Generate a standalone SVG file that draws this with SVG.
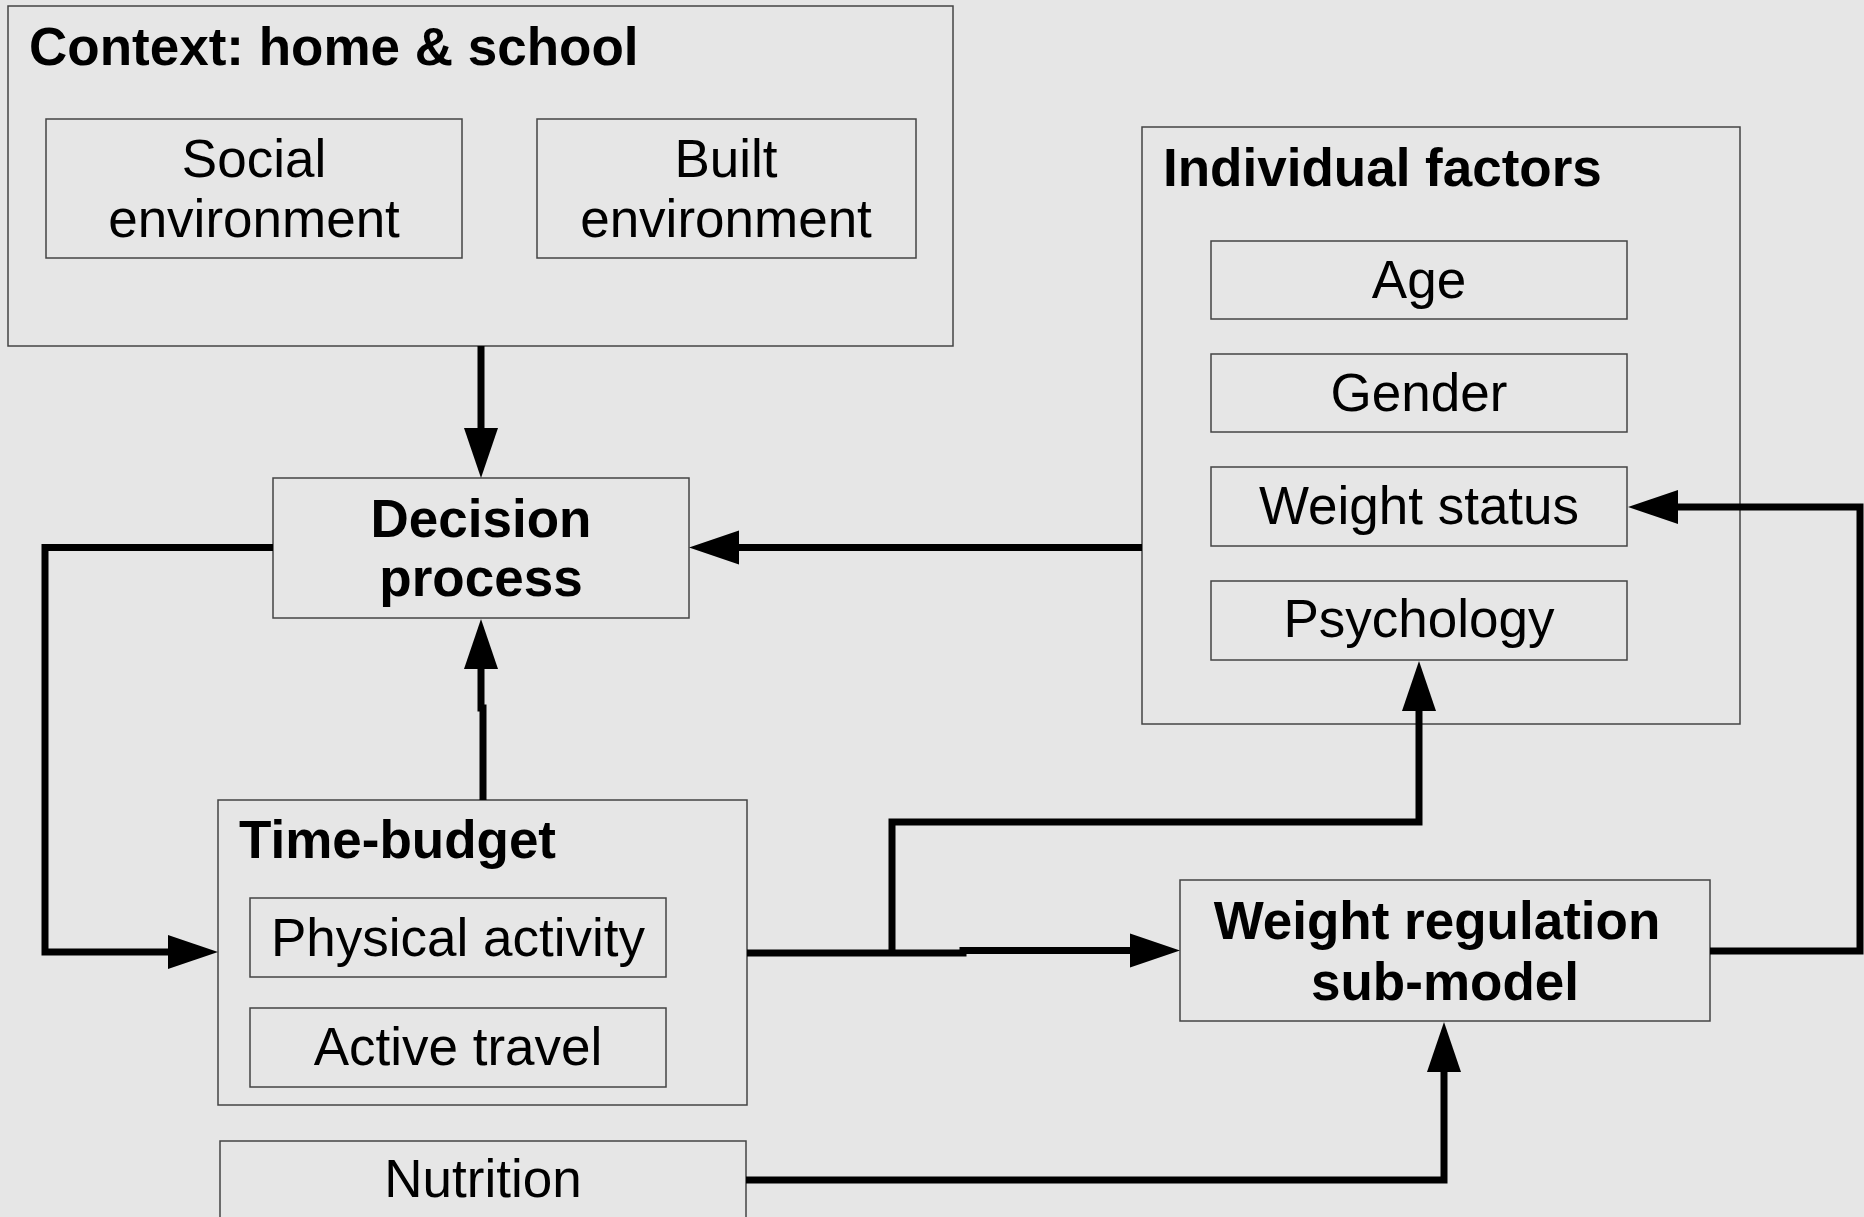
<svg xmlns="http://www.w3.org/2000/svg" width="1864" height="1217" viewBox="0 0 1864 1217">
<style>
.box{fill:#e6e6e6;stroke:#444;stroke-width:1.5}
.t{font-family:"Liberation Sans",Arial,sans-serif;font-size:53px;fill:#000}
.c{text-anchor:middle}
.b{font-weight:bold}
.conn{fill:none;stroke:#000;stroke-width:7;stroke-linejoin:miter;stroke-linecap:butt}
</style>
<defs>
<marker id="ah" markerUnits="userSpaceOnUse" markerWidth="52" markerHeight="36" refX="0" refY="17" orient="auto" overflow="visible">
<path d="M0,0 L50,17 L0,34 Z" fill="#000"/>
</marker>
</defs>
<rect x="0" y="0" width="1864" height="1217" fill="#e6e6e6"/>

<g id="context">
<rect class="box" x="8" y="6" width="945" height="340"/>
<text class="t b" x="29" y="65">Context: home &amp; school</text>
</g>
<g id="social">
<rect class="box" x="46" y="119" width="416" height="139"/>
<text class="t c" x="254" y="177">Social</text>
<text class="t c" x="254" y="237">environment</text>
</g>
<g id="built">
<rect class="box" x="537" y="119" width="379" height="139"/>
<text class="t c" x="726" y="177">Built</text>
<text class="t c" x="726" y="237">environment</text>
</g>
<g id="decision">
<rect class="box" x="273" y="478" width="416" height="140"/>
<text class="t c b" x="481" y="537">Decision</text>
<text class="t c b" x="481" y="596">process</text>
</g>
<g id="individual">
<rect class="box" x="1142" y="127" width="598" height="597"/>
<text class="t b" x="1163" y="186">Individual factors</text>
</g>
<g id="age">
<rect class="box" x="1211" y="241" width="416" height="78"/>
<text class="t c" x="1419" y="298">Age</text>
</g>
<g id="gender">
<rect class="box" x="1211" y="354" width="416" height="78"/>
<text class="t c" x="1419" y="411">Gender</text>
</g>
<g id="weightstatus">
<rect class="box" x="1211" y="467" width="416" height="79"/>
<text class="t c" x="1419" y="524">Weight status</text>
</g>
<g id="psychology">
<rect class="box" x="1211" y="581" width="416" height="79"/>
<text class="t c" x="1419" y="637">Psychology</text>
</g>
<g id="timebudget">
<rect class="box" x="218" y="800" width="529" height="305"/>
<text class="t b" x="239" y="858">Time-budget</text>
</g>
<g id="physical">
<rect class="box" x="250" y="898" width="416" height="79"/>
<text class="t c" x="458" y="956">Physical activity</text>
</g>
<g id="activetravel">
<rect class="box" x="250" y="1008" width="416" height="79"/>
<text class="t c" x="458" y="1065">Active travel</text>
</g>
<g id="nutrition">
<rect class="box" x="220" y="1141" width="526" height="100"/>
<text class="t c" x="483" y="1197">Nutrition</text>
</g>
<g id="weightreg">
<rect class="box" x="1180" y="880" width="530" height="141"/>
<text class="t c b" x="1437" y="939">Weight regulation</text>
<text class="t c b" x="1445" y="1000">sub-model</text>
</g>

<g id="connectors">
<path class="conn" d="M481,346 V428" marker-end="url(#ah)"/>
<path class="conn" d="M1142,547.5 H739" marker-end="url(#ah)"/>
<path class="conn" d="M273,547.5 H45 V952 H168" marker-end="url(#ah)"/>
<path class="conn" d="M483,800 V708 H481 V669" marker-end="url(#ah)"/>
<path class="conn" d="M747,953 H963 V950.5 H1130" marker-end="url(#ah)"/>
<path class="conn" d="M892,951 V822 H1419 V711" marker-end="url(#ah)"/>
<path class="conn" d="M1710,951 H1860 V507 H1678" marker-end="url(#ah)"/>
<path class="conn" d="M746,1180 H1444 V1072" marker-end="url(#ah)"/>
</g>
</svg>
